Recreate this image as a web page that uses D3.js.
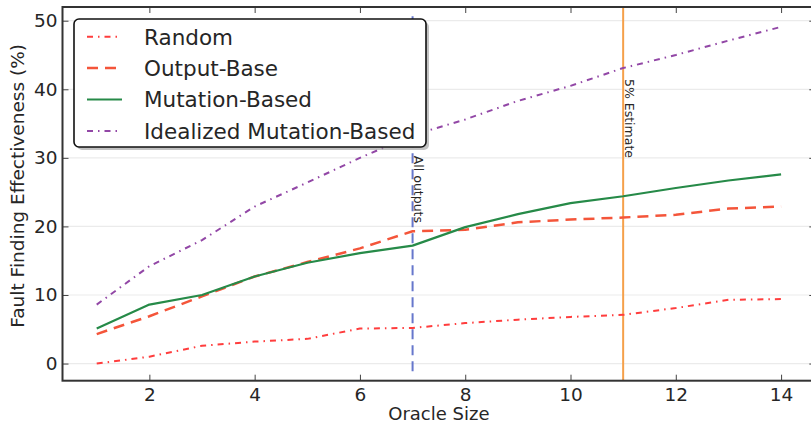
<!DOCTYPE html>
<html>
<head>
<meta charset="utf-8">
<script src="https://cdn.jsdelivr.net/npm/d3@7"></script>
<style>
  html, body { margin: 0; padding: 0; background: #fff; }
  svg { display: block; font-family: "DejaVu Sans", sans-serif; }
</style>
</head>
<body>
<svg id="chart" width="811" height="423"></svg>
<script>
const oracleSize = [1, 2, 3, 4, 5, 6, 7, 8, 9, 10, 11, 12, 13, 14];
const randomVals = [0.0, 1.0, 2.6, 3.2, 3.6, 5.1, 5.2, 5.9, 6.4, 6.8, 7.1, 8.1, 9.3, 9.4];
const outputBaseVals = [4.3, 6.9, 9.8, 12.7, 14.8, 16.8, 19.3, 19.5, 20.6, 21.0, 21.3, 21.7, 22.6, 22.9];
const mutationVals = [5.1, 8.6, 10.0, 12.7, 14.7, 16.1, 17.2, 19.9, 21.8, 23.4, 24.4, 25.6, 26.7, 27.6];
const idealizedVals = [8.6, 14.2, 18.0, 22.9, 26.4, 30.0, 33.3, 35.6, 38.3, 40.5, 43.1, 45.0, 47.1, 49.1];
const seriesNames = ["Random", "Output-Base", "Mutation-Based", "Idealized Mutation-Based"];
const xTicks = [2, 4, 6, 8, 10, 12, 14];
const yTicks = [0, 10, 20, 30, 40, 50];
const markers = [{x: 7, label: "All outputs", labelY: 30.3}, {x: 11, label: "5% Estimate", labelY: 41.5}];

const styles = [
  {color: "#ff3d3d", width: 2, dash: "6,5,1.5,5"},
  {color: "#f4553a", width: 2.5, dash: "11,7"},
  {color: "#268a48", width: 2.2, dash: null},
  {color: "#9247a6", width: 2, dash: "6,5,1.5,5"}
];
const allSeries = [randomVals, outputBaseVals, mutationVals, idealizedVals];

const svg = d3.select("#chart");
const pLeft = 62.5, pTop = 7, pBottom = 380.7, pRight = 815.3;
const x = d3.scaleLinear().domain([0.35, 14.65]).range([pLeft, pRight]);
const y = d3.scaleLinear().domain([-2.5, 52]).range([pBottom, pTop]);
const textColor = "#262626";

svg.append("defs").append("clipPath").attr("id", "plotclip")
  .append("rect").attr("x", pLeft).attr("y", pTop).attr("width", pRight - pLeft).attr("height", pBottom - pTop);

// grid
svg.append("g").selectAll("line").data(yTicks).join("line")
  .attr("x1", pLeft).attr("x2", pRight)
  .attr("y1", d => y(d)).attr("y2", d => y(d))
  .attr("stroke", "#ebebeb").attr("stroke-width", 1.2);

// axes (inward ticks)
const xAxisB = d3.axisBottom(x).tickValues(xTicks).tickSize(-6).tickPadding(7).tickFormat(d3.format("d"));
const xAxisT = d3.axisTop(x).tickValues(xTicks).tickSize(-6).tickFormat("");
const yAxisL = d3.axisLeft(y).tickValues(yTicks).tickSize(-6).tickPadding(5).tickFormat(d3.format("d"));
const yAxisR = d3.axisRight(y).tickValues(yTicks).tickSize(-6).tickFormat("");

function styleAxis(g) {
  g.select(".domain").remove();
  g.selectAll(".tick line").attr("stroke", "#444").attr("stroke-width", 1);
  g.selectAll(".tick text").attr("fill", textColor).attr("font-size", "18.5px")
    .attr("font-family", "DejaVu Sans, sans-serif");
}
svg.append("g").attr("transform", `translate(0,${pBottom})`).call(xAxisB).call(styleAxis);
svg.append("g").attr("transform", `translate(0,${pTop})`).call(xAxisT).call(styleAxis);
svg.append("g").attr("transform", `translate(${pLeft},0)`).call(yAxisL).call(styleAxis);
svg.append("g").attr("transform", `translate(${pRight},0)`).call(yAxisR).call(styleAxis);

// marker lines
svg.append("line")
  .attr("x1", x(markers[0].x)).attr("x2", x(markers[0].x))
  .attr("y1", pBottom - 0.025 * (pBottom - pTop)).attr("y2", pTop + 0.025 * (pBottom - pTop))
  .attr("stroke", "#6677cc").attr("stroke-width", 2).attr("stroke-dasharray", "10,6");
svg.append("line")
  .attr("x1", x(markers[1].x)).attr("x2", x(markers[1].x))
  .attr("y1", pBottom).attr("y2", pTop)
  .attr("stroke", "#f5a04a").attr("stroke-width", 2);

// series lines
const line = d3.line().x((d, i) => x(oracleSize[i])).y(d => y(d));
const linesG = svg.append("g").attr("clip-path", "url(#plotclip)");
allSeries.forEach((vals, k) => {
  const p = linesG.append("path").datum(vals)
    .attr("d", line)
    .attr("fill", "none")
    .attr("stroke", styles[k].color)
    .attr("stroke-width", styles[k].width)
    .attr("stroke-linejoin", "round");
  if (styles[k].dash) p.attr("stroke-dasharray", styles[k].dash);
});

// marker labels
markers.forEach(m => {
  svg.append("text")
    .attr("transform", `translate(${x(m.x) + 1.5},${y(m.labelY)}) rotate(90)`)
    .attr("text-anchor", "start")
    .attr("font-size", "12.5px")
    .attr("fill", textColor)
    .text(m.label);
});

// spines
svg.append("rect").attr("x", pLeft).attr("y", pTop)
  .attr("width", pRight - pLeft).attr("height", pBottom - pTop)
  .attr("fill", "none").attr("stroke", "#333").attr("stroke-width", 2);

// axis labels
svg.append("text")
  .attr("x", (pLeft + pRight) / 2).attr("y", 419.5)
  .attr("text-anchor", "middle").attr("font-size", "18px").attr("fill", textColor)
  .text("Oracle Size");
svg.append("text")
  .attr("transform", `translate(24,${(pTop + pBottom) / 2 - 8}) rotate(-90)`)
  .attr("text-anchor", "middle").attr("font-size", "18.5px").attr("fill", textColor)
  .text("Fault Finding Effectiveness (%)");

// legend
const lg = svg.append("g");
const lx = 74, ly = 19, lw = 352, lh = 128;
lg.append("rect").attr("x", lx + 3).attr("y", ly + 3).attr("width", lw).attr("height", lh)
  .attr("rx", 5).attr("fill", "#9a9a9a").attr("opacity", 0.6);
lg.append("rect").attr("x", lx).attr("y", ly).attr("width", lw).attr("height", lh)
  .attr("rx", 5).attr("fill", "#fff").attr("stroke", "#111").attr("stroke-width", 1.6);
seriesNames.forEach((name, k) => {
  const cy = ly + 17.7 + k * 31.4;
  const l = lg.append("line").attr("x1", lx + 13).attr("x2", lx + 48)
    .attr("y1", cy).attr("y2", cy)
    .attr("stroke", styles[k].color).attr("stroke-width", styles[k].width);
  if (styles[k].dash) l.attr("stroke-dasharray", styles[k].dash);
  lg.append("text").attr("x", lx + 70).attr("y", cy + 7.8)
    .attr("font-size", "21.5px").attr("fill", textColor).text(name);
});
</script>
</body>
</html>
